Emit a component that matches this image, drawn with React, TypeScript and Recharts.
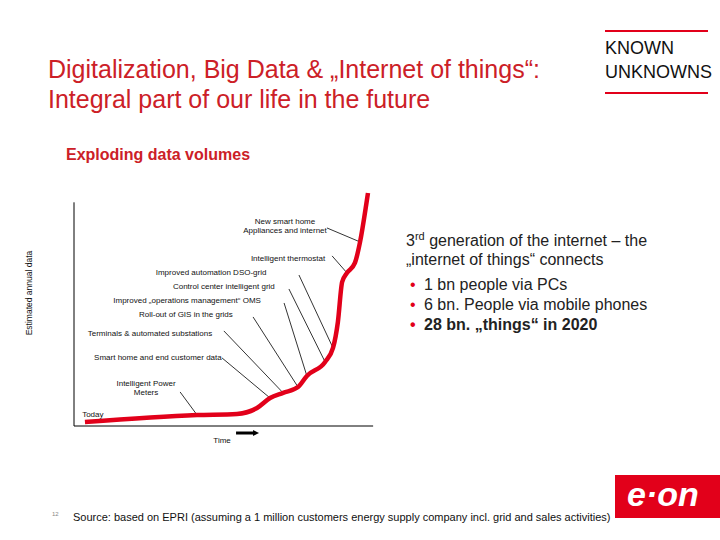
import { LineChart, Line, XAxis, YAxis, ReferenceLine, ReferenceDot } from "recharts";

// curve: time (0-100) vs estimated annual data (0-100)
const timePoints = [3.6, 40.5, 53.6, 60.2, 64.5, 68.8, 73.7, 76.6, 82.6, 85.2, 86.8, 88.2, 89.8, 92.4, 94.1, 96.1, 96.7];
const dataVolume = [1.7, 4.7, 5.2, 7.7, 12.0, 14.2, 16.7, 21.5, 27.5, 33.5, 44.6, 61.8, 65.7, 70, 79, 94.8, 100];

const annoLines = [
  ["New smart home", "Appliances and internet"],
  ["Intelligent thermostat"],
  ["Improved automation DSO-grid"],
  ["Control center intelligent grid"],
  ["Improved „operations management“ OMS"],
  ["Roll-out of GIS in the grids"],
  ["Terminals & automated substations"],
  ["Smart home and end customer data"],
  ["Intelligent Power", "Meters"],
];
// which curve point each leader line ends on
const annoTarget = [14, 12, 9, 8, 7, 6, 5, 4, 1];
// label anchor (middle of text) and leader start, in chart units
const annoPos = [
  { x: 69.4, y: 86.7, fx: 83.2, fy: 85 },
  { x: 70.4, y: 70.8, fx: 84.9, fy: 73 },
  { x: 45.1, y: 64.8, fx: 74, fy: 64.8 },
  { x: 49.3, y: 58.8, fx: 70.7, fy: 58.8 },
  { x: 37.2, y: 52.8, fx: 69.1, fy: 52.8 },
  { x: 36.8, y: 46.8, fx: 58.9, fy: 46.8 },
  { x: 25, y: 38.6, fx: 49.3, fy: 40.8 },
  { x: 27.6, y: 28.3, fx: 48.7, fy: 29.2 },
  { x: 23.7, y: 17.2, fx: 34.9, fy: 14.6 },
];

const bullets = ["1 bn people via PCs", "6 bn. People via mobile phones", "28 bn. „things“ in 2020"];

const RED = "#e2001a";
const TITLE_RED = "#cc2027";
const FONT = "'Liberation Sans', Arial, sans-serif";

const data = timePoints.map((t, i) => ({ time: t, volume: dataVolume[i] }));

const smallText = (lines: string[]) => (props: any) => {
  const vb = props.viewBox || {};
  return (
    <text x={vb.x} y={vb.y} textAnchor="middle" fontSize={8} fontFamily={FONT} fill="#111">
      {lines.map((l, i) => (
        <tspan key={i} x={vb.x} dy={i === 0 ? 0 : 9}>
          {l}
        </tspan>
      ))}
    </text>
  );
};

const timeLabel = (props: any) => {
  const vb = props.viewBox || {};
  return (
    <g>
      <text x={vb.x} y={vb.y} textAnchor="middle" fontSize={8} fontFamily={FONT} fill="#111">
        Time
      </text>
      <line x1={vb.x + 14} y1={vb.y - 10} x2={vb.x + 32} y2={vb.y - 10} stroke="#000" strokeWidth={3} />
      <polygon points={`${vb.x + 31},${vb.y - 13} ${vb.x + 37},${vb.y - 10} ${vb.x + 31},${vb.y - 7}`} fill="#000" />
    </g>
  );
};

const abs = (left: number, top: number, extra: any = {}) => ({
  position: "absolute" as const,
  left,
  top,
  fontFamily: FONT,
  whiteSpace: "nowrap" as const,
  ...extra,
});

export default function App() {
  return (
    <div style={{ position: "absolute", left: 0, top: 0, width: 720, height: 540, background: "#fff", overflow: "hidden" }}>
      <LineChart
        width={720}
        height={540}
        data={data}
        margin={{ top: 193, left: 74, right: 342, bottom: 114 }}
      >
        <XAxis type="number" dataKey="time" domain={[0, 100]} hide />
        <YAxis type="number" domain={[0, 100]} hide />
        <ReferenceLine segment={[{ x: 0, y: 0 }, { x: 0, y: 96 }]} stroke="#000" strokeWidth={1} ifOverflow="visible" />
        <ReferenceLine segment={[{ x: 0, y: 0 }, { x: 98.4, y: 0 }]} stroke="#000" strokeWidth={1} ifOverflow="visible" />
        {annoPos.map((p, i) => (
          <ReferenceLine
            key={"l" + i}
            segment={[
              { x: p.fx, y: p.fy },
              { x: timePoints[annoTarget[i]], y: dataVolume[annoTarget[i]] },
            ]}
            stroke="#000"
            strokeWidth={0.8}
            ifOverflow="visible"
          />
        ))}
        <Line
          type="monotone"
          dataKey="volume"
          stroke={RED}
          strokeWidth={4.5}
          dot={false}
          isAnimationActive={false}
        />
        {annoPos.map((p, i) => (
          <ReferenceDot
            key={"t" + i}
            x={p.x}
            y={p.y}
            r={0}
            fill="none"
            stroke="none"
            ifOverflow="visible"
            label={smallText(annoLines[i])}
          />
        ))}
        <ReferenceDot x={6.2} y={3.9} r={0} fill="none" stroke="none" ifOverflow="visible" label={smallText(["Today"])} />
        <ReferenceDot x={48.7} y={-7.3} r={0} fill="none" stroke="none" ifOverflow="visible" label={timeLabel} />
      </LineChart>

      <div style={abs(48, 54, { fontSize: 25, color: TITLE_RED, lineHeight: "30px" })}>
        Digitalization, Big Data &amp; „Internet of things“:
        <br />
        Integral part of our life in the future
      </div>

      <div style={abs(605, 30, { width: 103, height: 2, background: RED })} />
      <div style={abs(605, 36, { fontSize: 18, color: "#111", lineHeight: "24px" })}>
        KNOWN
        <br />
        UNKNOWNS
      </div>
      <div style={abs(605, 92, { width: 103, height: 2, background: RED })} />

      <div style={abs(66, 146, { fontSize: 16, fontWeight: "bold", color: TITLE_RED })}>Exploding data volumes</div>

      <div style={abs(29, 293, { fontSize: 8.5, color: "#111", transform: "translate(-50%, -50%) rotate(-90deg)" })}>
        Estimated annual data
      </div>

      <div style={abs(406, 231, { fontSize: 16, color: "#222", lineHeight: "19px" })}>
        3<sup style={{ fontSize: 11, verticalAlign: "6px", lineHeight: 0 }}>rd</sup> generation of the internet – the
        <br />
        „internet of things“ connects
      </div>
      {bullets.map((b, i) => (
        <div key={b} style={abs(410, 275 + i * 20, { fontSize: 16, color: "#222", lineHeight: "19px", fontWeight: i === 2 ? "bold" : "normal" })}>
          <span style={{ color: RED, display: "inline-block", width: 14 }}>•</span>
          {b}
        </div>
      ))}

      <div style={abs(52, 511, { fontSize: 6, color: "#888" })}>12</div>
      <div style={abs(73, 511, { fontSize: 11, color: "#111" })}>
        Source: based on EPRI (assuming a 1 million customers energy supply company incl. grid and sales activities)
      </div>

      <div style={abs(615, 475, { width: 105, height: 43, background: RED })}>
        <div style={{ position: "absolute", left: 12, top: 0, fontSize: 34, fontWeight: "bold", fontStyle: "italic", color: "#fff", fontFamily: FONT }}>
          e·on
        </div>
      </div>
    </div>
  );
}
